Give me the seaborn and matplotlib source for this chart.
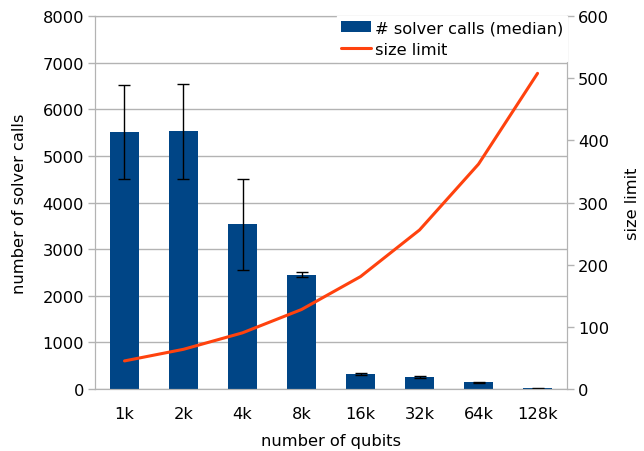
import numpy as np
import matplotlib.pyplot as plt
import seaborn as sns
import pandas as pd

# data
qubits = ['1k', '2k', '4k', '8k', '16k', '32k', '64k', '128k']
solver_calls = [5510, 5530, 3540, 2445, 322, 257, 150, 20]
err_low = [4505, 4505, 2565, 2396, 310, 245, 140, 12]
err_high = [6525, 6555, 4505, 2509, 336, 270, 158, 26]
size_limit = [45.3, 64, 90.5, 128, 181, 256, 362, 508]

bar_color = '#004586'
line_color = '#ff420e'
grid_color = '#b3b3b3'
fs = 11.7

sns.set_style('white')
plt.rcParams['font.family'] = ['DejaVu Sans']
plt.rcParams['text.color'] = 'black'
plt.rcParams['axes.labelcolor'] = 'black'
plt.rcParams['xtick.color'] = 'black'
plt.rcParams['ytick.color'] = 'black'

df = pd.DataFrame({'qubits': qubits, 'calls': solver_calls})

fig = plt.figure(figsize=(6.44, 4.52), dpi=100)
ax = fig.add_axes([0.1475, 0.137, 0.733, 0.825])

sns.barplot(data=df, x='qubits', y='calls', color=bar_color, width=0.5,
            saturation=1, linewidth=0, ax=ax, label='# solver calls (median)', zorder=2)
if ax.get_legend() is not None:
    ax.get_legend().remove()

pos = np.arange(len(qubits))
calls = np.array(solver_calls)
yerr = [calls - np.array(err_low), np.array(err_high) - calls]
ax.errorbar(pos, calls, yerr=yerr, fmt='none', ecolor='black', elinewidth=1,
            capsize=4, capthick=1, zorder=3)

ax.set_ylim(0, 8000)
ax.set_yticks(np.arange(0, 8001, 1000))
ax.set_xlim(-0.5, len(qubits) - 0.5)
ax.yaxis.grid(True, color=grid_color, linewidth=1)
ax.set_axisbelow(True)
ax.set_xlabel('number of qubits', fontsize=fs, labelpad=9)
ax.set_ylabel('number of solver calls', fontsize=fs, labelpad=11)

# ticks between categories
ax.set_xticks(pos)
ax.set_xticks(np.arange(-0.5, len(qubits), 1), minor=True)
ax.tick_params(axis='x', which='major', length=0, labelsize=fs, pad=12)
ax.tick_params(axis='x', which='minor', length=5, color=grid_color, width=1)
ax.tick_params(axis='y', length=5, color=grid_color, width=1, labelsize=fs, left=True, pad=3)

for s in ax.spines.values():
    s.set_color(grid_color)

ax2 = ax.twinx()
sns.lineplot(x=pos, y=size_limit, color=line_color, linewidth=2.2, ax=ax2,
             label='size limit', legend=False, zorder=4)
ax2.set_ylim(0, 600)
ax2.set_yticks(np.arange(0, 601, 100))
ax2.set_ylabel('size limit', fontsize=fs, labelpad=11)
ax2.tick_params(axis='y', length=5, color=grid_color, width=1, labelsize=fs, right=True, pad=3)
for s in ax2.spines.values():
    s.set_color(grid_color)

h1, l1 = ax.get_legend_handles_labels()
h2, l2 = ax2.get_legend_handles_labels()
leg = ax2.legend(h1 + h2, l1 + l2, loc='upper right', frameon=True, fontsize=fs,
                 borderaxespad=0.0, borderpad=0.25, handlelength=1.9, handleheight=0.6,
                 handletextpad=0.2, labelspacing=0.4, fancybox=False)
leg.get_frame().set_edgecolor('white')
leg.get_frame().set_alpha(1)

fig.savefig('out.png', dpi=100)
